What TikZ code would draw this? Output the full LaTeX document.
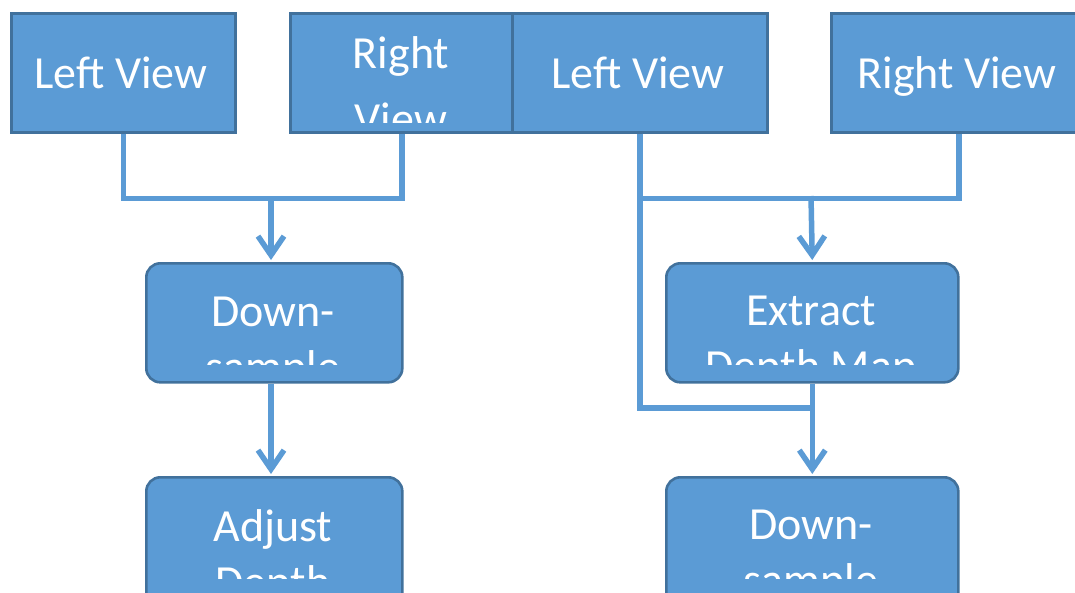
\documentclass[tikz,border=0pt]{standalone}
\usepackage{fontspec}
\setmainfont{Carlito}
\usetikzlibrary{arrows.meta}
\definecolor{boxfill}{HTML}{5B9BD5}
\definecolor{boxline}{HTML}{41719C}
\tikzset{
  box/.style={draw=boxline, line width=2.6pt, fill=boxfill, inner sep=0pt, anchor=north west},
  rbox/.style={box, rounded corners=14pt},
  txt/.style={text=white, font=\fontsize{46}{56}\selectfont, inner sep=0pt, anchor=base},
  conn/.style={draw=boxfill, line width=5.5pt},
  arr/.style={conn, -{Straight Barb[length=19pt, width=26pt, line width=5.5pt]}, shorten >=2pt}
}
\begin{document}
\begin{tikzpicture}[x=1pt, y=-1pt]
\useasboundingbox (0,0) rectangle (1075,592);
% top boxes
\node[box, minimum width=224pt, minimum height=119pt] (a) at (10,12) {};
\node[txt] (ta) at (121,88) {Left View};
\node[box, minimum width=223pt, minimum height=119pt] (b) at (289,12) {};
\begin{scope}
  \clip (289,12) rectangle (512,122);
  \node[txt] (tb1) at (401,68) {Right};
  \node[txt] (tb2) at (401,134) {View};
\end{scope}
\node[box, minimum width=255pt, minimum height=119pt] (c) at (511,12) {};
\node[txt] (tc) at (638,88) {Left View};
\node[box, minimum width=255pt, minimum height=119pt] (d) at (830,12) {};
\node[txt] (td) at (957,88) {Right View};
% middle boxes
\node[rbox, minimum width=256pt, minimum height=119pt] (e) at (145,262) {};
\begin{scope}
  \clip (145,262) rectangle (401,364);
  \node[txt] (te1) at (273,326) {Down-};
  \node[txt] (te2) at (273,382) {sample};
\end{scope}
\node[rbox, minimum width=292pt, minimum height=119pt] (f) at (665,262) {};
\begin{scope}
  \clip (665,262) rectangle (957,364);
  \node[txt] (tf1) at (811,325) {Extract};
  \node[txt] (tf2) at (811,381) {Depth Map};
\end{scope}
% bottom boxes
\node[rbox, minimum width=256pt, minimum height=130pt] (g) at (145,476) {};
\begin{scope}
  \clip (145,476) rectangle (401,578);
  \node[txt] (tg1) at (273,541) {Adjust};
  \node[txt] (tg2) at (273,597) {Depth};
\end{scope}
\node[rbox, minimum width=292pt, minimum height=130pt] (h) at (665,476) {};
\begin{scope}
  \clip (665,476) rectangle (957,578);
  \node[txt] (th1) at (811,539) {Down-};
  \node[txt] (th2) at (811,595) {sample};
\end{scope}
% connectors left
\coordinate (j1) at (271,196);
\draw[conn] (a.south) -- ++(0,65) -| (b.south);
\draw[arr] (j1) -- (j1 |- e.north);
\draw[arr] (e.south -| j1) -- (j1 |- g.north);
% connectors right
\coordinate (k1) at (811,196);
\coordinate (k2) at (811,408);
\draw[conn] (c.south) -- ++(0,65) -| (d.south);
\draw[conn] (c.south) |- (k2);
\draw[arr] (k1) -- (f.north);
\draw[arr] (f.south) -- (h.north);
\end{tikzpicture}
\end{document}
